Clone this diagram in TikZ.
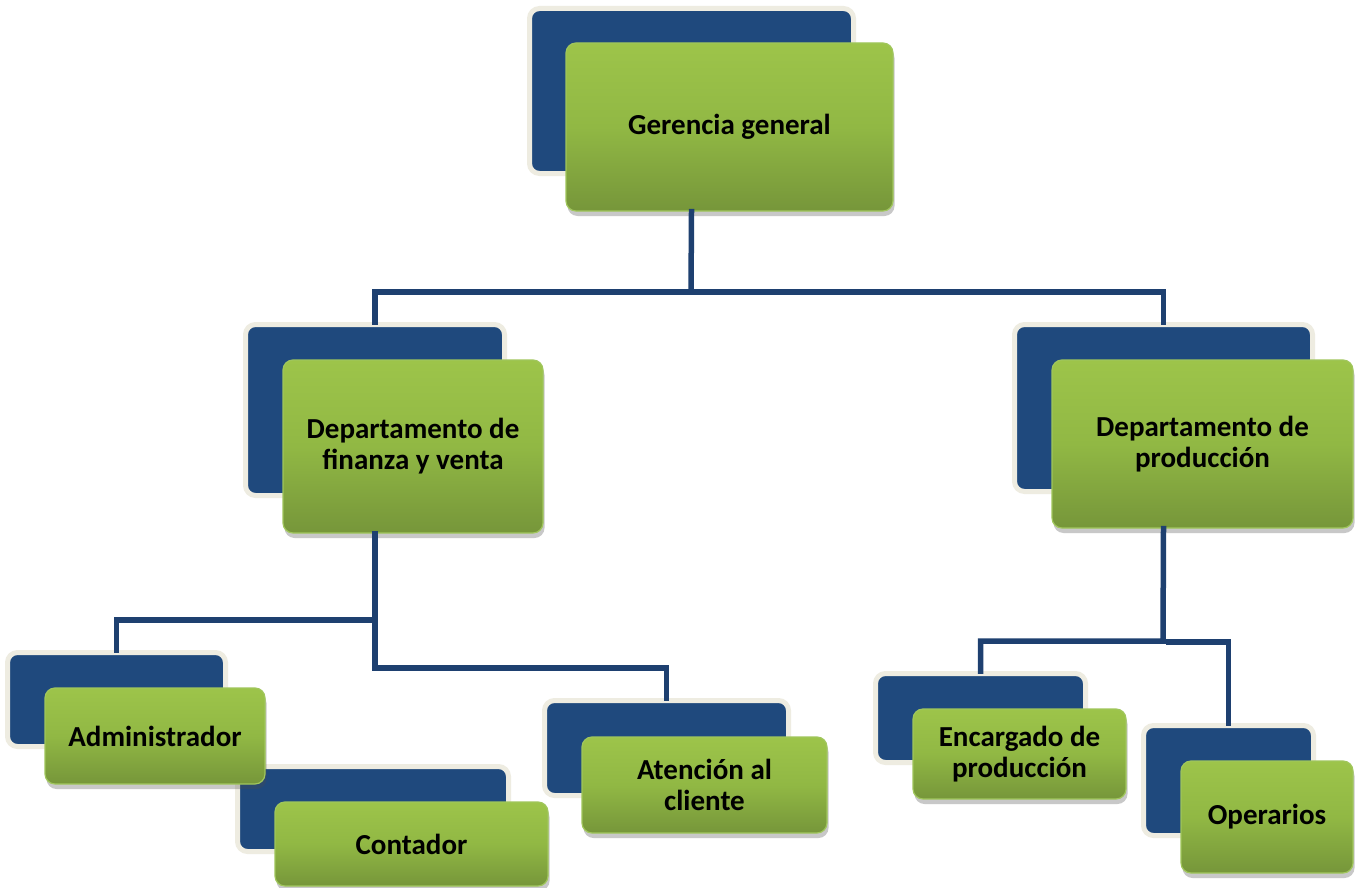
\documentclass[tikz,border=0pt]{standalone}
\usepackage{fontspec}
\setmainfont{Carlito}
\usetikzlibrary{shadows}
\definecolor{navy}{RGB}{31,73,125}
\definecolor{linenavy}{RGB}{30,64,112}
\definecolor{cream}{RGB}{238,236,225}
\definecolor{grtop}{RGB}{157,196,74}
\definecolor{grmid}{RGB}{145,184,68}
\definecolor{grbot}{RGB}{118,150,58}
\definecolor{grline}{RGB}{160,198,92}
\tikzset{
  backbox/.style={draw=cream, line width=5pt, fill=navy, rounded corners=10pt,
    inner sep=0pt},
  frontbox/.style={draw=grline, line width=1.2pt, rounded corners=10pt,
    top color=grtop, bottom color=grbot, middle color=grmid,
    inner sep=0pt, align=center, text=black,
    font=\fontsize{29}{31}\selectfont\bfseries,
    drop shadow={shadow xshift=1.5pt, shadow yshift=-5pt, opacity=0.3, fill=black!70}},
  conn/.style={draw=linenavy, line width=5.5pt, line join=miter, line cap=rect}
}
\begin{document}
\begin{tikzpicture}[x=1pt,y=-1pt]
\useasboundingbox[fill=white] (0,0) rectangle (1360,888);

\coordinate (j1) at (691,292);
\coordinate (j2) at (375,620);
\coordinate (j3) at (375,668);
\coordinate (j4) at (1163,641);
\coordinate (j5) at (1169,642);

% back boxes
\node[backbox, minimum width=324pt, minimum height=165pt] (ggb) at (691.5,91) {};
\node[backbox, minimum width=259pt, minimum height=171pt] (fvb) at (375,410) {};
\node[backbox, minimum width=298pt, minimum height=167pt] (prb) at (1163.5,408) {};
\node[backbox, minimum width=218pt, minimum height=94pt] (adb) at (116.5,699.5) {};
\node[backbox, minimum width=271pt, minimum height=85pt] (cob) at (373,809) {};
\node[backbox, minimum width=244pt, minimum height=95pt] (atb) at (666.5,748) {};
\node[backbox, minimum width=210pt, minimum height=89pt] (enb) at (980.5,718) {};
\node[backbox, minimum width=170pt, minimum height=110pt] (opb) at (1228.5,780.5) {};

% front boxes
\node[frontbox, minimum width=327pt, minimum height=168pt] (ggg) at (729.5,127) {Gerencia general};
\node[frontbox, minimum width=260pt, minimum height=173pt] (fvg) at (413,446.5) {Departamento de\\finanza y venta};
\node[frontbox, minimum width=301pt, minimum height=168pt] (prg) at (1202.5,444) {Departamento de\\producción};
\node[frontbox, minimum width=220pt, minimum height=96pt] (adg) at (155,736) {Administrador};
\node[frontbox, minimum width=273pt, minimum height=84pt] (cog) at (411.5,844) {Contador};
\node[frontbox, minimum width=245pt, minimum height=96pt] (atg) at (704.5,785) {Atención al\\cliente};
\node[frontbox, minimum width=213pt, minimum height=90pt] (eng) at (1019.5,754) {Encargado de\\producción};
\node[frontbox, minimum width=172pt, minimum height=112pt] (opg) at (1267,817) {Operarios};

% connectors
\draw[conn] (ggb.center |- ggg.south) -- (j1);
\draw[conn] (fvb.north) -- (fvb.north |- j1) -- (prb.north |- j1) -- (prb.north);
\draw[conn] (fvb.center |- fvg.south) -- (j3) -| (atb.north);
\draw[conn] (adb.north) |- (j2);
\draw[conn] (prb.center |- prg.south) -- (j4) -| (enb.north);
\draw[conn] (j5) -| (opb.north);
\end{tikzpicture}
\end{document}
